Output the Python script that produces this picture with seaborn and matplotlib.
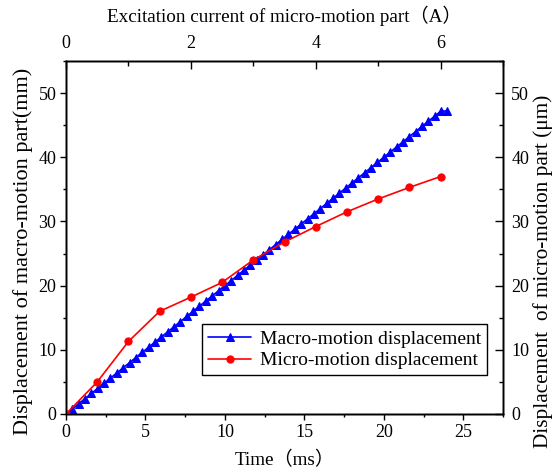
import matplotlib
matplotlib.use('Agg')
import matplotlib.pyplot as plt
import seaborn as sns
from matplotlib.ticker import MultipleLocator

# ---------------- data ----------------
macro_time = [0.0, 0.4, 0.8, 1.2, 1.6, 2.0, 2.4, 2.8, 3.2, 3.6, 4.0, 4.4, 4.8, 5.2, 5.6,
              6.0, 6.4, 6.8, 7.2, 7.6, 8.0, 8.4, 8.8, 9.2, 9.6, 10.0, 10.4, 10.8, 11.2, 11.6,
              12.0, 12.4, 12.8, 13.2, 13.6, 14.0, 14.4, 14.8, 15.2, 15.6, 16.0, 16.4, 16.8,
              17.2, 17.6, 18.0, 18.4, 18.8, 19.2, 19.6, 20.0, 20.4, 20.8, 21.2, 21.6, 22.0,
              22.4, 22.8, 23.2, 23.6, 24.0]
macro_disp = [0.0, 0.8, 1.6, 2.4, 3.2, 4.0, 4.8, 5.6, 6.4, 7.2, 8.0, 8.8, 9.6, 10.4, 11.2,
              12.0, 12.8, 13.6, 14.4, 15.2, 16.0, 16.8, 17.6, 18.4, 19.2, 20.0, 20.8, 21.6,
              22.4, 23.2, 24.0, 24.8, 25.6, 26.4, 27.2, 28.0, 28.8, 29.6, 30.4, 31.2, 32.0,
              32.8, 33.6, 34.4, 35.2, 36.0, 36.8, 37.6, 38.4, 39.2, 40.0, 40.8, 41.6, 42.4,
              43.2, 44.0, 44.8, 45.6, 46.4, 47.2, 47.2]
micro_current = [0.0, 0.5, 1.0, 1.5, 2.0, 2.5, 3.0, 3.5, 4.0, 4.5, 5.0, 5.5, 6.0]
micro_disp = [0.0, 5.0, 11.3, 16.0, 18.2, 20.5, 24.0, 26.8, 29.2, 31.5, 33.5, 35.3, 37.0]

macro_label = 'Macro-motion displacement'
micro_label = 'Micro-motion displacement'
xlabel_bottom = 'Time（ms）'
xlabel_top = 'Excitation current of micro-motion part（A）'
ylabel_left = 'Displacement of macro-motion part(mm)'
ylabel_right = 'Displacement  of micro-motion part (μm)'

# ---------------- style ----------------
sns.set_style('ticks')
plt.rcParams['font.family'] = ['Liberation Serif', 'Noto Sans CJK SC', 'DejaVu Sans']
plt.rcParams.update({
    'axes.edgecolor': 'black', 'xtick.color': 'black', 'ytick.color': 'black',
    'text.color': 'black', 'axes.labelcolor': 'black', 'axes.linewidth': 1.0,
})
TFS = 13     # tick labels
XFS = 13.8   # x labels
YFS = 16     # left y label
RFS = 15.3   # right y label
LFS = 14     # legend

fig = plt.figure(figsize=(5.56, 4.72), dpi=100)
ax = fig.add_axes([66 / 556, 1 - 414 / 472, 437 / 556, 353 / 472])

sns.lineplot(x=macro_time, y=macro_disp, ax=ax, color='blue', marker='^',
             markersize=5.5, markeredgecolor='blue', linewidth=1.2, legend=False)
ax.set_xlim(0, 27.5)
ax.set_ylim(0, 55)
ax.xaxis.set_major_locator(MultipleLocator(5))
ax.xaxis.set_minor_locator(MultipleLocator(2.5))
ax.yaxis.set_major_locator(MultipleLocator(10))
ax.yaxis.set_minor_locator(MultipleLocator(5))
ax.tick_params(which='both', direction='out', top=False, right=False, labelsize=TFS, pad=2.5)
ax.tick_params(which='major', length=4.5, width=1)
ax.tick_params(which='minor', length=2.5, width=1)
ax.set_xlabel(xlabel_bottom, fontsize=XFS, labelpad=7)
ax.set_ylabel(ylabel_left, fontsize=YFS, labelpad=4)
ax.yaxis.label.set_y(0.46)

axr = ax.twinx()
axr.set_ylim(0, 55)
axr.yaxis.set_major_locator(MultipleLocator(10))
axr.yaxis.set_minor_locator(MultipleLocator(5))
axr.tick_params(which='both', direction='in', labelsize=TFS, pad=6)
axr.tick_params(which='major', length=5.5, width=1)
axr.tick_params(which='minor', length=3, width=1)
axr.set_ylabel(ylabel_right, fontsize=RFS, labelpad=3)
axr.yaxis.label.set_y(0.405)

axt = axr.twiny()
sns.lineplot(x=micro_current, y=micro_disp, ax=axt, color='red', marker='o',
             markersize=5.2, markeredgecolor='red', linewidth=1.2, legend=False)
axt.set_xlim(0, 7)
axt.set_ylim(0, 55)
axt.xaxis.set_major_locator(MultipleLocator(2))
axt.xaxis.set_minor_locator(MultipleLocator(1))
axt.tick_params(which='both', direction='in', labelsize=TFS, pad=6.5)
axt.tick_params(which='major', length=5.5, width=1)
axt.tick_params(which='minor', length=3.5, width=1)
axt.set_xlabel(xlabel_top, fontsize=XFS, labelpad=9)

for a in (ax, axr, axt):
    for s in a.spines.values():
        s.set_linewidth(1.0)
        s.set_color('black')

handles = [ax.lines[0], axt.lines[0]]
leg = axt.legend(handles, [macro_label, micro_label], loc='lower right',
                 bbox_to_anchor=(0.963, 0.110), borderaxespad=0, fontsize=LFS,
                 frameon=True, fancybox=False, framealpha=1, edgecolor='black',
                 numpoints=1, handlelength=2.2, labelspacing=0.2, borderpad=0.3,
                 handletextpad=0.45)
leg.get_frame().set_linewidth(1.0)

fig.savefig('out.png', dpi=100)
